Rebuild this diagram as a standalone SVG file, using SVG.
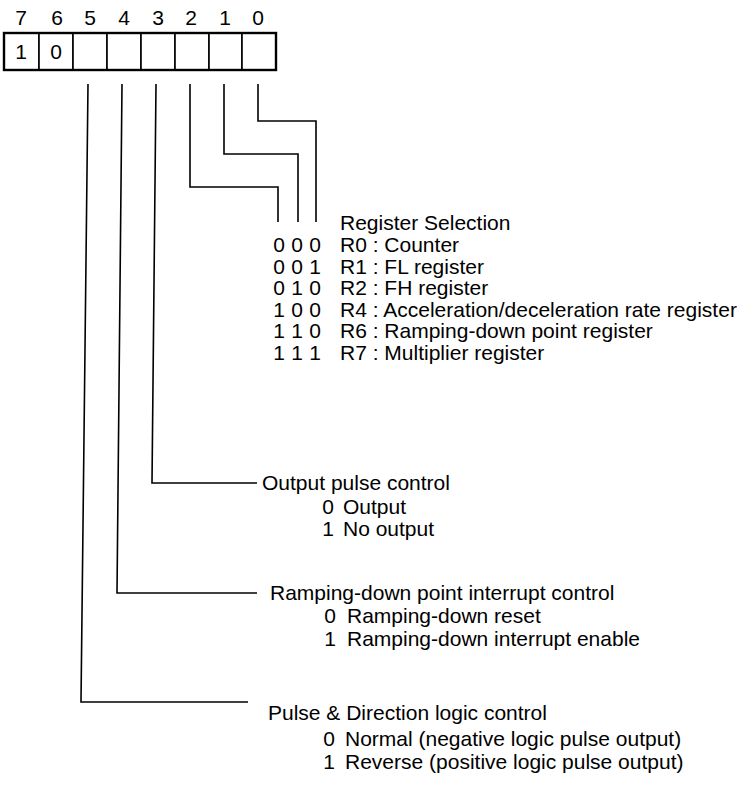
<svg xmlns="http://www.w3.org/2000/svg" width="747" height="788" viewBox="0 0 747 788">
<style>
text{font-family:"Liberation Sans",Arial,sans-serif;font-size:21px;fill:#000}
.mid{text-anchor:middle}
.cell{fill:#fff;stroke:#000;stroke-width:1.6}
.outer{fill:none;stroke:#000;stroke-width:2.4}
.wire{fill:none;stroke:#000;stroke-width:1.6;stroke-linejoin:miter}
</style>
<rect width="747" height="788" fill="#fff"/>
<g id="bit-numbers">
<text class="mid" x="21" y="25">7</text>
<text class="mid" x="57" y="25">6</text>
<text class="mid" x="90" y="25">5</text>
<text class="mid" x="124" y="25">4</text>
<text class="mid" x="158" y="25">3</text>
<text class="mid" x="191" y="25">2</text>
<text class="mid" x="225" y="25">1</text>
<text class="mid" x="258" y="25">0</text>
</g>
<g id="register">
<rect class="cell" x="4" y="33" width="35" height="37"/>
<rect class="cell" x="39" y="33" width="34" height="37"/>
<rect class="cell" x="73" y="33" width="34" height="37"/>
<rect class="cell" x="107" y="33" width="34" height="37"/>
<rect class="cell" x="141" y="33" width="34" height="37"/>
<rect class="cell" x="175" y="33" width="34" height="37"/>
<rect class="cell" x="209" y="33" width="33" height="37"/>
<rect class="cell" x="242" y="33" width="34" height="37"/>
<rect class="outer" x="4" y="33" width="272" height="37"/>
<text class="mid" x="21" y="59">1</text>
<text class="mid" x="56" y="59">0</text>
</g>
<g id="connectors">
<polyline class="wire" points="258,84 258,121 316,121 316,222"/>
<polyline class="wire" points="224,84 224,154 298,154 298,222"/>
<polyline class="wire" points="190,84 190,187 278,187 278,222"/>
<polyline class="wire" points="156,84 152,483 257,483"/>
<polyline class="wire" points="122,84 117,593 257,593"/>
<polyline class="wire" points="88,84 81,702 248,702"/>
</g>
<g id="register-selection">
<text x="340" y="230">Register Selection</text>
<text class="mid" x="279" y="252">0</text><text class="mid" x="297" y="252">0</text><text class="mid" x="315" y="252">0</text>
<text x="340" y="252">R0 : Counter</text>
<text class="mid" x="279" y="273.5">0</text><text class="mid" x="297" y="273.5">0</text><text class="mid" x="315" y="273.5">1</text>
<text x="340" y="273.5">R1 : FL register</text>
<text class="mid" x="279" y="295">0</text><text class="mid" x="297" y="295">1</text><text class="mid" x="315" y="295">0</text>
<text x="340" y="295">R2 : FH register</text>
<text class="mid" x="279" y="316.5">1</text><text class="mid" x="297" y="316.5">0</text><text class="mid" x="315" y="316.5">0</text>
<text x="340" y="316.5">R4 : Acceleration/deceleration rate register</text>
<text class="mid" x="279" y="338">1</text><text class="mid" x="297" y="338">1</text><text class="mid" x="315" y="338">0</text>
<text x="340" y="338">R6 : Ramping-down point register</text>
<text class="mid" x="279" y="359.5">1</text><text class="mid" x="297" y="359.5">1</text><text class="mid" x="315" y="359.5">1</text>
<text x="340" y="359.5">R7 : Multiplier register</text>
</g>
<g id="output-pulse-control">
<text x="262" y="490">Output pulse control</text>
<text class="mid" x="328" y="514">0</text><text x="343" y="514">Output</text>
<text class="mid" x="328" y="536">1</text><text x="343" y="536">No output</text>
</g>
<g id="ramping-down-control">
<text x="270" y="600">Ramping-down point interrupt control</text>
<text class="mid" x="330" y="623">0</text><text x="347" y="623">Ramping-down reset</text>
<text class="mid" x="330" y="646">1</text><text x="347" y="646">Ramping-down interrupt enable</text>
</g>
<g id="pulse-direction-control">
<text x="268" y="720">Pulse &amp; Direction logic control</text>
<text class="mid" x="329" y="746">0</text><text x="345" y="746">Normal (negative logic pulse output)</text>
<text class="mid" x="329" y="769">1</text><text x="345" y="769">Reverse (positive logic pulse output)</text>
</g>
</svg>
